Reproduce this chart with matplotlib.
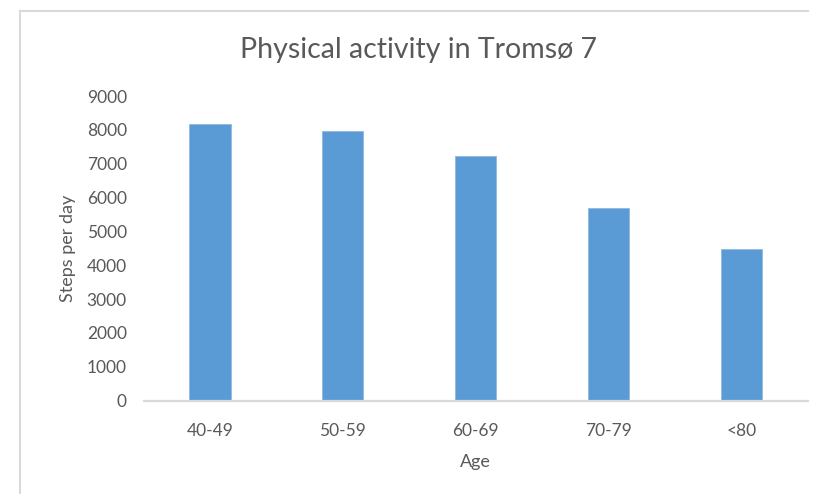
import matplotlib
matplotlib.use("Agg")
import matplotlib.pyplot as plt
from matplotlib.lines import Line2D

ages = ["40-49", "50-59", "60-69", "70-79", "<80"]
steps = [8160, 7980, 7230, 5690, 4470]
yticks = [0, 1000, 2000, 3000, 4000, 5000, 6000, 7000, 8000, 9000]

plt.rcParams["font.family"] = ["Lato", "DejaVu Sans"]
W, H = 813, 494
fig = plt.figure(figsize=(W / 100, H / 100), dpi=100)
ax = fig.add_axes([143.5 / W, 1 - 400.7 / H, (808 - 143.5) / W, (400.7 - 96) / H])

ax.bar(range(len(ages)), steps, width=0.31, color="#5b9bd5",
       edgecolor="#8fb9e3", linewidth=0.6, zorder=2)
ax.set_xlim(-0.5, len(ages) - 0.5)
ax.set_ylim(0, 9000)
ax.set_yticks(yticks)
ax.set_xticks(range(len(ages)))
ax.set_xticklabels(ages)

for s in ("top", "right", "left"):
    ax.spines[s].set_visible(False)
ax.spines["bottom"].set_color("#d9d9d9")
ax.spines["bottom"].set_linewidth(1.6)
ax.tick_params(length=0, labelsize=12.5, colors="#595959")
ax.tick_params(axis="y", pad=12)
ax.tick_params(axis="x", pad=16)

ax.set_ylabel("Steps per day", fontsize=13, color="#595959", labelpad=8)
ax.set_xlabel("Age", fontsize=13, color="#595959", labelpad=11)
fig.text(418 / W, 1 - 50 / H, "Physical activity in Tromsø 7", ha="center",
         va="center", fontsize=20.5, color="#595959")

# chart border (left and top edges visible)
fig.add_artist(Line2D([20 / W, 20 / W], [0, 1 - 11 / H], transform=fig.transFigure,
                      color="#d9d9d9", linewidth=1.5))
fig.add_artist(Line2D([20 / W, 808 / W], [1 - 11 / H, 1 - 11 / H], transform=fig.transFigure,
                      color="#d9d9d9", linewidth=1.5))

fig.savefig("out.png", dpi=100)
